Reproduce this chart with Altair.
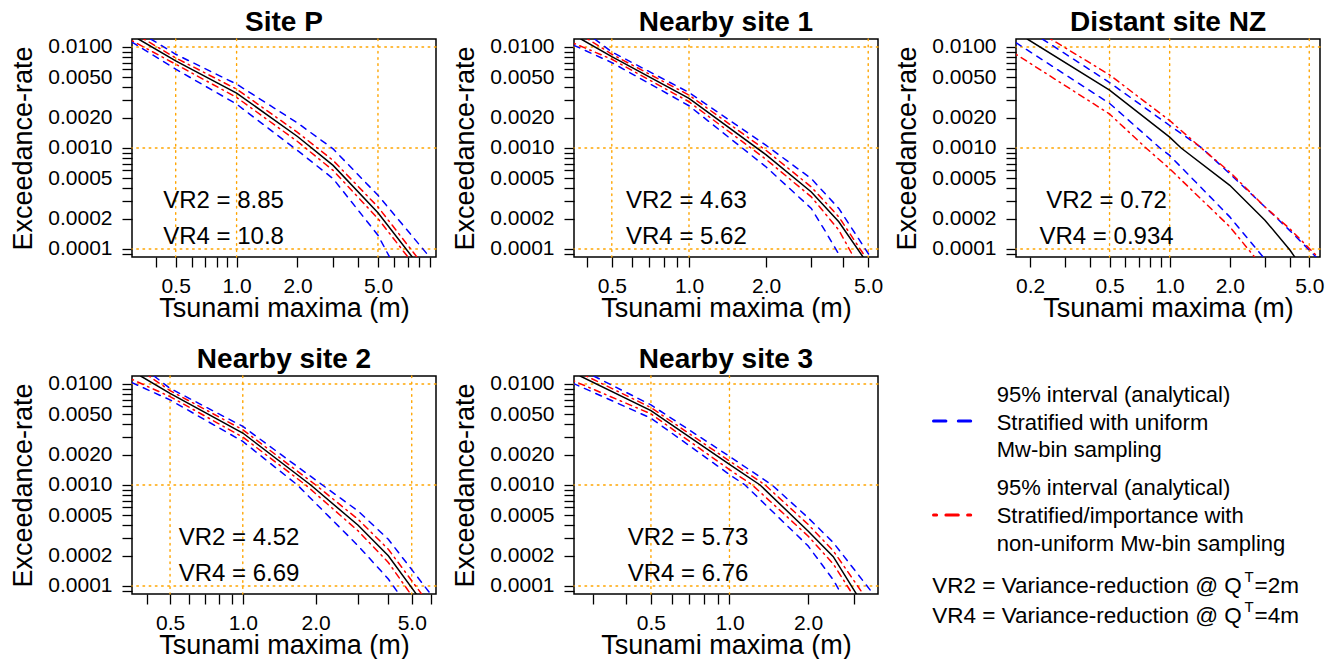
import altair as alt
import pandas as pd

FONT = "Liberation Sans"

# ---------------- values ----------------
panel_titles = ["Site P", "Nearby site 1", "Distant site NZ", "Nearby site 2", "Nearby site 3"]
x_domains = [[0.304, 9.68], [0.356, 5.46], [0.170, 5.66], [0.348, 6.30], [0.2535, 3.71]]
y_domain = [0.0000833, 0.012]

x_tick_values = [0.2, 0.3, 0.4, 0.5, 0.6, 0.7, 0.8, 0.9, 1, 2, 3, 4, 5, 6, 7, 8, 9]
x_label_values = [0.2, 0.5, 1, 2, 5]
y_tick_values = [round(m * 10.0 ** k, 10) for k in (-5, -4, -3, -2) for m in range(1, 10)]
y_label_values = [0.0001, 0.0002, 0.0005, 0.001, 0.002, 0.005, 0.01]
grid_x = [0.5, 1, 5]
grid_y = [0.01, 0.001, 0.0001]

# Site P
p1_black_x = [0.327, 0.5, 1.0, 2.0, 3.0, 5.0, 7.40]
p1_black_y = [0.0120, 0.00728, 0.00350, 0.00130, 0.000672, 0.000228, 0.000083]
p1_redhi_x = [0.348, 0.5, 1.0, 2.0, 3.0, 5.0, 7.80]
p1_redhi_y = [0.0120, 0.00779, 0.00383, 0.00143, 0.000753, 0.000261, 0.000083]
p1_redlo_x = [0.304, 0.5, 1.0, 2.0, 3.0, 5.0, 7.04]
p1_redlo_y = [0.01154, 0.00675, 0.00317, 0.00116, 0.000600, 0.000200, 0.000083]
p1_bluehi_x = [0.376, 0.5, 1.0, 2.0, 3.0, 5.0, 9.02]
p1_bluehi_y = [0.0120, 0.00847, 0.00429, 0.00177, 0.000981, 0.000340, 0.000083]
p1_bluelo_x = [0.304, 0.5, 1.0, 2.0, 3.0, 5.0, 5.71]
p1_bluelo_y = [0.0112, 0.00603, 0.00272, 0.000945, 0.000497, 0.000137, 0.000083]

# Nearby site 1
p2_black_x = [0.379, 0.5, 1.0, 2.0, 3.0, 3.84, 4.78]
p2_black_y = [0.0120, 0.00803, 0.00310, 0.000856, 0.000367, 0.000186, 0.000083]
p2_redhi_x = [0.403, 0.5, 1.0, 2.0, 3.0, 3.84, 4.88]
p2_redhi_y = [0.0120, 0.00847, 0.00334, 0.000945, 0.000411, 0.000208, 0.000083]
p2_redlo_x = [0.356, 0.5, 1.0, 2.0, 3.0, 3.84, 4.39]
p2_redlo_y = [0.01087, 0.00756, 0.00287, 0.000770, 0.000328, 0.000154, 0.000083]
p2_bluehi_x = [0.428, 0.5, 1.0, 2.0, 3.0, 3.84, 5.11]
p2_bluehi_y = [0.0120, 0.00893, 0.00355, 0.00106, 0.000497, 0.000252, 0.000083]
p2_bluelo_x = [0.356, 0.5, 1.0, 2.0, 3.0, 3.40, 3.90]
p2_bluelo_y = [0.01038, 0.00701, 0.00262, 0.000648, 0.000252, 0.000150, 0.000083]

# Distant site NZ
p3_black_x = [0.1936, 0.5, 1.0, 1.141, 2.0, 3.0, 4.0, 4.236]
p3_black_y = [0.0120, 0.00374, 0.00128, 0.001, 0.000427, 0.000193, 0.0000977, 0.000083]
p3_redhi_x = [0.2536, 0.5, 1.0, 1.439, 2.0, 3.0, 4.0, 5.53]
p3_redhi_y = [0.0120, 0.00530, 0.00187, 0.001, 0.000578, 0.000261, 0.000158, 0.000083]
p3_redlo_x = [0.170, 0.5, 0.761, 1.0, 2.0, 2.667]
p3_redlo_y = [0.00847, 0.00217, 0.001, 0.000623, 0.000166, 0.000083]
p3_bluehi_x = [0.2303, 0.5, 1.0, 1.45, 2.0, 3.0, 4.0, 5.42]
p3_bluehi_y = [0.0120, 0.00445, 0.00167, 0.001, 0.000556, 0.000261, 0.000152, 0.000083]
p3_bluelo_x = [0.170, 0.5, 0.895, 1.0, 2.0, 2.94]
p3_bluelo_y = [0.01103, 0.002765, 0.001, 0.000844, 0.000208, 0.000083]

# Nearby site 2
p4_black_x = [0.378, 0.5, 1.0, 1.91, 3.0, 4.0, 5.226]
p4_black_y = [0.0120, 0.00809, 0.00327, 0.001, 0.000399, 0.000199, 0.000083]
p4_redhi_x = [0.409, 0.5, 1.0, 2.003, 3.0, 4.0, 5.50]
p4_redhi_y = [0.0120, 0.00860, 0.00352, 0.001, 0.000457, 0.000231, 0.000083]
p4_redlo_x = [0.348, 0.5, 1.0, 1.821, 3.0, 4.0, 4.953]
p4_redlo_y = [0.0111, 0.00750, 0.00298, 0.001, 0.000351, 0.000171, 0.000083]
p4_bluehi_x = [0.429, 0.5, 1.0, 2.135, 3.0, 4.0, 5.99]
p4_bluehi_y = [0.0120, 0.00906, 0.00380, 0.001, 0.000552, 0.000290, 0.000083]
p4_bluelo_x = [0.348, 0.5, 1.0, 1.682, 3.0, 4.0, 4.432]
p4_bluelo_y = [0.0103, 0.00696, 0.00270, 0.001, 0.000250, 0.0001172, 0.000083]

# Nearby site 3
p5_black_x = [0.2677, 0.5, 1.0, 1.31, 2.0, 2.5, 3.069]
p5_black_y = [0.0120, 0.00546, 0.00160, 0.001, 0.000350, 0.000195, 0.000083]
p5_redhi_x = [0.2824, 0.5, 1.0, 1.37, 2.0, 2.5, 3.258]
p5_redhi_y = [0.0120, 0.00584, 0.00173, 0.001, 0.000408, 0.000223, 0.000083]
p5_redlo_x = [0.2515, 0.5, 1.0, 1.223, 2.0, 2.5, 2.962]
p5_redlo_y = [0.01079, 0.00506, 0.00142, 0.001, 0.000313, 0.000165, 0.000083]
p5_bluehi_x = [0.3015, 0.5, 1.0, 1.456, 2.0, 2.5, 3.562]
p5_bluehi_y = [0.0120, 0.00621, 0.00192, 0.001, 0.000475, 0.000269, 0.000083]
p5_bluelo_x = [0.2515, 0.5, 1.0, 1.147, 2.0, 2.5, 2.685]
p5_bluelo_y = [0.01015, 0.00459, 0.00127, 0.001, 0.000250, 0.000115, 0.000083]

vr2_text = ["VR2 = 8.85", "VR2 = 4.63", "VR2 = 0.72", "VR2 = 4.52", "VR2 = 5.73"]
vr4_text = ["VR4 = 10.8", "VR4 = 5.62", "VR4 = 0.934", "VR4 = 6.69", "VR4 = 6.76"]
vr_x = [0.862, 0.977, 0.483, 0.965, 0.694]
vr2_y = 0.0003
vr4_y = 0.000132

legend_lines_blue = ["95% interval (analytical)", "Stratified with uniform", "Mw-bin sampling"]
legend_lines_red = ["95% interval (analytical)", "Stratified/importance with", "non-uniform Mw-bin sampling"]

# ---------------- assemble long table ----------------
panels = [
    {"black": (p1_black_x, p1_black_y), "redhi": (p1_redhi_x, p1_redhi_y), "redlo": (p1_redlo_x, p1_redlo_y),
     "bluehi": (p1_bluehi_x, p1_bluehi_y), "bluelo": (p1_bluelo_x, p1_bluelo_y)},
    {"black": (p2_black_x, p2_black_y), "redhi": (p2_redhi_x, p2_redhi_y), "redlo": (p2_redlo_x, p2_redlo_y),
     "bluehi": (p2_bluehi_x, p2_bluehi_y), "bluelo": (p2_bluelo_x, p2_bluelo_y)},
    {"black": (p3_black_x, p3_black_y), "redhi": (p3_redhi_x, p3_redhi_y), "redlo": (p3_redlo_x, p3_redlo_y),
     "bluehi": (p3_bluehi_x, p3_bluehi_y), "bluelo": (p3_bluelo_x, p3_bluelo_y)},
    {"black": (p4_black_x, p4_black_y), "redhi": (p4_redhi_x, p4_redhi_y), "redlo": (p4_redlo_x, p4_redlo_y),
     "bluehi": (p4_bluehi_x, p4_bluehi_y), "bluelo": (p4_bluelo_x, p4_bluelo_y)},
    {"black": (p5_black_x, p5_black_y), "redhi": (p5_redhi_x, p5_redhi_y), "redlo": (p5_redlo_x, p5_redlo_y),
     "bluehi": (p5_bluehi_x, p5_bluehi_y), "bluelo": (p5_bluelo_x, p5_bluelo_y)},
]

rows = []
for pi, sd in enumerate(panels):
    for name, (xs_, ys_) in sd.items():
        kind = "black" if name == "black" else ("red" if name.startswith("red") else "blue")
        for j, (a, b) in enumerate(zip(xs_, ys_)):
            rows.append({"panel": pi, "series": name, "kind": kind, "idx": j, "x": a, "y": b})
curves = pd.DataFrame(rows)

xlabel_expr = ("indexof(" + str(x_label_values) + ", datum.value) >= 0 ? format(datum.value, '.1f') : ''")
ylabel_expr = ("indexof(" + str(y_label_values) + ", datum.value) >= 0 ? format(datum.value, '.4f') : ''")

PW, PH = 304, 218
ORANGE = "#FFA500"


def make_panel(pi):
    lo, hi = x_domains[pi]
    xs = alt.Scale(type="log", domain=[lo, hi], nice=False)
    ys = alt.Scale(type="log", domain=y_domain, nice=False)
    xt = [v for v in x_tick_values if lo <= v <= hi]
    yt = [v for v in y_tick_values if y_domain[0] <= v <= y_domain[1]]
    common = dict(tickSize=10, tickWidth=1.3, tickColor="black", labelFontSize=21, labelFont=FONT,
                  labelColor="black", titleFontSize=27, titleFont=FONT, titleFontWeight="normal",
                  titleColor="black", domain=False, grid=False, labelOverlap=False, labelFlush=False,
                  titleBaseline="alphabetic")
    x_axis = alt.Axis(values=xt, labelExpr=xlabel_expr, title="Tsunami maxima (m)",
                      labelPadding=8, titleY=59, **common)
    y_axis = alt.Axis(values=yt, labelExpr=ylabel_expr, title="Exceedance-rate",
                      labelPadding=10, titleX=-101, **common)

    d = curves[curves.panel == pi]
    gx = [g for g in grid_x if lo <= g <= hi]

    hgrid = alt.Chart(pd.DataFrame({"gy": grid_y})).mark_rule(
        color=ORANGE, strokeDash=[1.6, 4.6], strokeWidth=1.4, strokeCap="round"
    ).encode(y=alt.Y("gy:Q", scale=ys, axis=y_axis))
    vgrid = alt.Chart(pd.DataFrame({"gx": gx})).mark_rule(
        color=ORANGE, strokeDash=[1.6, 4.6], strokeWidth=1.4, strokeCap="round"
    ).encode(x=alt.X("gx:Q", scale=xs, axis=x_axis))

    enc = dict(x=alt.X("x:Q", scale=xs, axis=x_axis), y=alt.Y("y:Q", scale=ys, axis=y_axis),
               detail="series:N", order="idx:Q")
    base = alt.Chart(d)
    black = base.transform_filter(alt.datum.kind == "black").mark_line(
        color="black", strokeWidth=1.5, clip=True, strokeCap="round").encode(**enc)
    blue = base.transform_filter(alt.datum.kind == "blue").mark_line(
        color="#0000FF", strokeWidth=1.5, clip=True, strokeDash=[6.2, 6.2], strokeCap="round").encode(**enc)
    red = base.transform_filter(alt.datum.kind == "red").mark_line(
        color="#FF0000", strokeWidth=1.5, clip=True, strokeDash=[1.55, 4.65, 6.2, 4.65],
        strokeCap="round").encode(**enc)

    tdf = pd.DataFrame({"tx": [vr_x[pi], vr_x[pi]], "ty": [vr2_y, vr4_y],
                        "label": [vr2_text[pi], vr4_text[pi]]})
    text = alt.Chart(tdf).mark_text(fontSize=24, font=FONT, align="center", baseline="middle",
                                    color="black").encode(
        x=alt.X("tx:Q", scale=xs, axis=x_axis), y=alt.Y("ty:Q", scale=ys, axis=y_axis), text="label:N")

    return alt.layer(hgrid, vgrid, black, blue, red, text).properties(
        width=PW, height=PH,
        title=alt.TitleParams(panel_titles[pi], fontSize=28, fontWeight="bold", font=FONT, anchor="middle",
                              frame="group", offset=-23, baseline="alphabetic", color="black"))


def make_legend():
    one = alt.Chart(pd.DataFrame({"k": [0]}))
    layers = []
    for i, s in enumerate(legend_lines_blue):
        layers.append(one.mark_text(align="left", baseline="middle", fontSize=22, font=FONT, color="black")
                      .encode(x=alt.value(-19.3), y=alt.value(19.3 + 27.5 * i), text=alt.value(s)))
    for i, s in enumerate(legend_lines_red):
        layers.append(one.mark_text(align="left", baseline="middle", fontSize=22, font=FONT, color="black")
                      .encode(x=alt.value(-19.3), y=alt.value(111.7 + 28.0 * i), text=alt.value(s)))
    layers.append(one.mark_rule(color="#0000FF", strokeWidth=3, strokeDash=[12.4, 12.4], strokeCap="round")
                  .encode(x=alt.value(-82.5), x2=alt.value(-43.5), y=alt.value(45)))
    layers.append(one.mark_rule(color="#FF0000", strokeWidth=3, strokeDash=[3.1, 9.3, 12.4, 9.3],
                                strokeCap="round")
                  .encode(x=alt.value(-82.5), x2=alt.value(-38.5), y=alt.value(139)))
    for yy, q in [(210, "2m"), (240, "4m")]:
        vr = "VR2" if q == "2m" else "VR4"
        layers.append(one.mark_text(align="left", baseline="middle", fontSize=22.5, font=FONT, color="black")
                      .encode(x=alt.value(-83.7), y=alt.value(yy), text=alt.value(vr + " = Variance-reduction @ Q")))
        layers.append(one.mark_text(align="left", baseline="middle", fontSize=15, font=FONT, color="black")
                      .encode(x=alt.value(228.5), y=alt.value(yy - 9), text=alt.value("T")))
        layers.append(one.mark_text(align="left", baseline="middle", fontSize=22.5, font=FONT, color="black")
                      .encode(x=alt.value(238.5), y=alt.value(yy), text=alt.value("=" + q)))
    return alt.layer(*layers).properties(width=PW, height=PH, view=alt.ViewBackground(strokeOpacity=0))


chart = alt.concat(
    make_panel(0), make_panel(1), make_panel(2), make_panel(3), make_panel(4), make_legend(),
    columns=3, spacing={"row": 119, "column": 138}, bounds="flush"
).properties(
    padding={"left": 0, "top": 0, "right": 0, "bottom": 0}
).configure_view(stroke="black", strokeWidth=1.5)

chart.save("out.html", embed_options={"renderer": "svg", "actions": False})
